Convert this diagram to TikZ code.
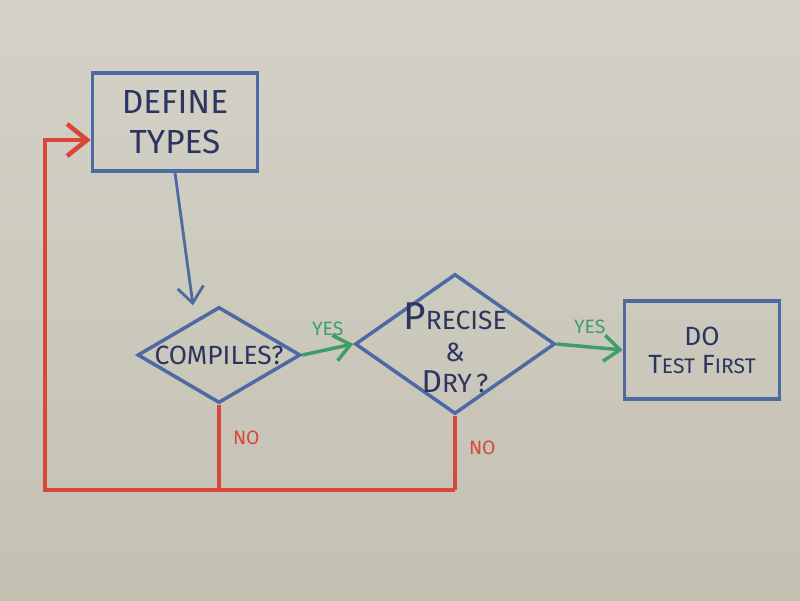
\documentclass[tikz,border=0pt]{standalone}
\usepackage{fontspec}
\setmainfont{Fira Sans}
\usetikzlibrary{positioning, arrows.meta, shapes.geometric}
\definecolor{bBoard}{HTML}{C4C1B3}
\definecolor{bBoardTop}{HTML}{D4D2C7}
\definecolor{bBlue}{HTML}{4D6AA3}
\definecolor{bInk}{HTML}{2C3560}
\definecolor{bGreen}{HTML}{3F9E68}
\definecolor{bRed}{HTML}{D9473B}

\begin{document}
\begin{tikzpicture}[
  block/.style={draw=bBlue, line width=1pt, inner sep=0pt},
  decision/.style={diamond, draw=bBlue, line width=1pt, inner sep=0pt},
  txt/.style={text=bInk, align=center, font=\fontsize{7.5}{9}\selectfont},
  flow/.style={draw=bBlue, line width=0.8pt, -{Straight Barb[length=1.6mm, width=2.6mm]}},
  yesline/.style={draw=bGreen, line width=1pt, -{Straight Barb[length=1.6mm, width=2.6mm]}},
  noline/.style={draw=bRed, line width=1.3pt},
  tag/.style={font=\fontsize{5.5}{6}\selectfont},
]
  \shade[top color=bBoardTop, bottom color=bBoard] (0,0) rectangle (8,6);
  \useasboundingbox (0,0) rectangle (8,6);

  \node[block, txt, minimum width=1.65cm, minimum height=0.98cm,
        font=\fontsize{9.5}{11.5}\selectfont] (define) at (1.75,4.78) {DEFINE\\TYPES};
  \node[decision, minimum width=1.63cm, minimum height=0.96cm,
        label={[txt]center:COMPILES?}] (compiles) at (2.19,2.45) {};
  \node[decision, minimum width=2.0cm, minimum height=1.4cm,
        label={[txt, yshift=-0.4mm]center:{{\fontsize{11}{11}\selectfont P}RECISE\\\&\\{\fontsize{9}{9}\selectfont D}RY\,?}}] (precise) at (4.55,2.56) {};
  \node[block, txt, minimum width=1.55cm, minimum height=0.98cm] (dotest) at (7.02,2.5)
    {DO\\[-1pt]{\fontsize{7.5}{9}\selectfont T}{\fontsize{6}{9}\selectfont EST} {\fontsize{7.5}{9}\selectfont F}{\fontsize{6}{9}\selectfont IRST}};
  \coordinate (loop) at (0.45,1.1);

  \draw[flow] (define.south) -- ([xshift=-2.6mm]compiles.north);
  \draw[yesline] (compiles.east) -- node[tag, text=bGreen, above] {YES} (precise.west);
  \draw[yesline] (precise.east) -- node[tag, text=bGreen, above] {YES} (dotest.west);
  \draw[noline] (compiles.south) -- node[tag, text=bRed, pos=0.39, right] {NO} (compiles.south |- loop);
  \draw[noline] (precise.south) -- node[tag, text=bRed, pos=0.43, right] {NO} (precise.south |- loop);
  \draw[noline, -{Straight Barb[length=2mm, width=3.2mm]}]
    (precise.south |- loop) -- (loop) |- ([yshift=-1.8mm]define.west);
\end{tikzpicture}
\end{document}
